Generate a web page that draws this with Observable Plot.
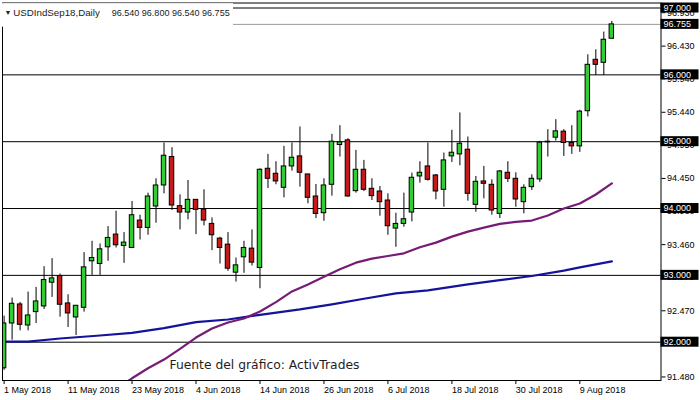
<!DOCTYPE html>
<html>
<head>
<meta charset="utf-8">
<script src="https://cdn.jsdelivr.net/npm/d3@7"></script>
<script src="https://cdn.jsdelivr.net/npm/@observablehq/plot@0.6"></script>
<style>
  html, body { margin: 0; padding: 0; background: white; }
</style>
</head>
<body>
<div id="chart"></div>
<script>
// ---- Data ----
const symbolTitle = "USDIndSep18,Daily";
const lastBar = "96.540 96.800 96.540 96.755";
const caption = "Fuente del gráfico: ActivTrades";

// Daily OHLC, one value per trading day (index 0 = 1 May 2018)
const open = [91.61,92.28,92.565,92.25,92.45,92.535,92.89,92.99,92.58,92.37,
  92.515,93.21,93.17,93.42,93.61,93.44,93.41,93.82,93.71,94.03,
  94.345,94.77,94.035,93.94,94.13,93.985,93.77,93.55,93.46,93.04,
  93.27,93.40,93.11,94.595,94.52,94.31,94.63,94.78,94.51,94.18,
  93.93,94.355,94.95,95.02,94.26,94.58,94.295,94.255,94.12,93.70,
  93.77,93.94,94.48,94.63,94.495,94.28,94.78,94.81,94.88,94.055,
  94.405,94.355,93.92,94.535,94.445,94.095,94.32,94.435,94.99,95.06,
  95.15,94.98,94.93,95.456,96.225,96.18,96.54];
const high = [92.39,92.66,92.595,92.75,92.82,93.13,93.25,93.02,92.71,92.55,
  93.34,93.51,93.47,93.73,93.96,93.64,94.105,93.90,94.23,94.445,
  94.98,94.91,94.205,94.42,94.13,94.28,93.86,93.57,93.64,93.26,
  93.51,93.68,94.595,94.81,94.70,94.93,94.98,95.22,94.51,94.36,
  94.445,95.11,95.24,95.045,94.87,94.72,94.445,94.33,94.22,93.93,
  94.23,94.53,94.70,94.98,94.51,94.83,95.17,95.43,95.07,94.48,
  94.63,94.43,94.57,94.70,94.535,94.355,94.505,95.005,95.18,95.33,
  95.18,95.24,95.47,96.30,96.375,96.64,96.80];
const low = [91.58,92.03,92.17,92.17,92.28,92.49,92.67,92.375,92.22,92.10,
  92.45,93.00,93.00,93.21,93.41,93.18,93.41,93.53,93.60,93.78,
  94.22,93.97,93.68,93.83,93.61,93.74,93.37,93.17,93.06,92.90,
  93.03,93.14,92.80,94.30,94.355,94.16,94.56,94.32,94.07,93.85,
  93.81,94.185,94.77,94.17,94.23,94.255,94.12,93.885,93.60,93.42,
  93.72,93.80,94.38,94.41,94.13,94.02,94.69,94.64,94.11,93.945,
  94.145,93.90,93.85,94.39,94.02,93.92,94.27,94.39,94.77,95.01,
  94.78,94.81,94.84,95.37,95.99,95.99,96.54];
const close = [92.28,92.575,92.26,92.40,92.61,92.93,92.955,92.56,92.43,92.545,
  93.12,93.26,93.39,93.56,93.45,93.49,93.90,93.71,94.18,94.345,
  94.79,94.045,93.94,94.13,93.98,93.82,93.60,93.41,93.10,93.15,
  93.41,93.19,94.58,94.445,94.405,94.63,94.76,94.535,94.16,93.92,
  94.345,95.00,94.99,94.18,94.58,94.28,94.185,94.095,93.735,93.77,
  93.84,94.46,94.535,94.43,94.255,94.72,94.835,94.97,94.22,94.40,
  94.37,93.97,94.555,94.445,94.135,94.31,94.445,94.985,95.00,95.155,
  94.98,94.93,95.45,96.15,96.15,96.525,96.755];

// Moving averages, read at selected bar indices
const slowMaIndex = [0,3,7,12,16,20,24,28,32,37,41,45,49,53,58,62,66,70,72,76];
const slowMaValue = [92.01,92.01,92.055,92.10,92.14,92.21,92.30,92.34,92.41,92.49,
  92.565,92.65,92.73,92.775,92.865,92.93,92.99,93.07,93.12,93.21];
const fastMaIndex = [15,16,18,20,22,24,26,28,30,32,34,36,38,40,42,44,46,48,50,52,
  54,56,58,60,62,64,66,68,70,72,74,76];
const fastMaValue = [91.38,91.46,91.61,91.74,91.90,92.07,92.205,92.295,92.355,92.46,
  92.60,92.76,92.865,92.98,93.09,93.19,93.25,93.29,93.33,93.42,
  93.49,93.58,93.655,93.715,93.77,93.80,93.82,93.895,94.00,94.075,94.21,94.375];

// Axes
const tickIndex = [0,8,16,24,32,40,48,56,64,72];
const tickLabels = ["1 May 2018","11 May 2018","23 May 2018","4 Jun 2018","14 Jun 2018",
  "26 Jun 2018","6 Jul 2018","18 Jul 2018","30 Jul 2018","9 Aug 2018"];
const yTickValues = [91.48,91.98,92.47,92.97,93.46,93.96,94.45,94.95,95.44,95.94,96.43,96.93];
const levelLines = [92,93,94,95,96,97];
const currentPrice = 96.755;

// ---- Build ----
const candles = open.map((o, i) => ({i, open: o, high: high[i], low: low[i], close: close[i]}));
const slowMa = slowMaIndex.map((i, k) => ({i, v: slowMaValue[k]}));
const fastMa = fastMaIndex.map((i, k) => ({i, v: fastMaValue[k]}));

const GREEN = "#33cc33", RED = "#c41a1a";
const FONT = "'Liberation Sans', Arial, sans-serif";

const plot = Plot.plot({
  width: 700,
  height: 400,
  marginLeft: 2,
  marginRight: 39.5,
  marginTop: 2.5,
  marginBottom: 20,
  style: {fontFamily: FONT, fontSize: "9px", color: "black", background: "white"},
  x: {type: "linear", domain: [-0.2, 82.15], axis: null},
  y: {domain: [91.427, 97.075], axis: null},
  marks: [
    Plot.ruleY(levelLines, {stroke: "black", strokeWidth: 1}),
    Plot.ruleY([currentPrice], {stroke: "#9a9a9a", strokeWidth: 1}),
    Plot.line(slowMa, {x: "i", y: "v", stroke: "#14149a", strokeWidth: 2.2, clip: true}),
    Plot.line(fastMa, {x: "i", y: "v", stroke: "#761c76", strokeWidth: 2.2, clip: true}),
    Plot.ruleX(candles, {x: "i", y1: "low", y2: "high", stroke: "black", strokeWidth: 1, clip: true}),
    Plot.rect(candles, {
      x1: d => d.i - 0.28, x2: d => d.i + 0.28,
      y1: "open", y2: "close",
      fill: d => d.close >= d.open ? GREEN : RED,
      stroke: "black", strokeWidth: 1, clip: true
    }),
    Plot.frame({stroke: "black"}),
    Plot.axisX(tickIndex, {
      tickFormat: d => tickLabels[tickIndex.indexOf(d)],
      textAnchor: "start", tickSize: 4, tickPadding: 2, label: null, fontSize: 9
    }),
    Plot.axisY(yTickValues, {
      anchor: "right", tickSize: 4, tickPadding: 2, label: null, fontSize: 9,
      tickFormat: d => d.toFixed(3)
    }),
    Plot.text([caption], {
      frameAnchor: "bottom-left", dx: 167, dy: -12, textAnchor: "start",
      fontSize: 12.5, fill: "#1e1e1e", fontFamily: "'DejaVu Sans', Verdana, sans-serif"
    })
  ]
});

document.getElementById("chart").appendChild(plot);

const svg = d3.select(plot);
// Tahoma-like caption width
svg.selectAll("text").filter(function() { return this.textContent === caption; })
  .attr("textLength", 190).attr("lengthAdjust", "spacingAndGlyphs");

// Price boxes on the right axis and the title block, positioned with Plot's y scale
const ys = plot.scale("y");
const boxes = svg.append("g")
  .attr("font-family", FONT).attr("font-size", 9).attr("text-anchor", "start");
[...levelLines, currentPrice].forEach(v => {
  const y = ys.apply(v);
  boxes.append("rect").attr("x", 660.5).attr("y", y - 5).attr("width", 38).attr("height", 10).attr("fill", "black");
  boxes.append("text").attr("x", 663.5).attr("y", y + 3.3).attr("fill", "white").text(v.toFixed(3));
});

const head = svg.append("g")
  .attr("font-family", FONT).attr("font-size", 9.5).attr("fill", "#222").attr("text-anchor", "start");
head.append("rect").attr("x", 0).attr("y", 3.2).attr("width", 233).attr("height", 23.5).attr("fill", "white");
head.append("text").attr("x", 4.5).attr("y", 15).attr("font-size", 7).text("▼");
head.append("text").attr("x", 13.3).attr("y", 15.8).attr("textLength", 86.5).attr("lengthAdjust", "spacingAndGlyphs").text(symbolTitle);
head.append("text").attr("x", 111.7).attr("y", 15.8).attr("textLength", 118).attr("lengthAdjust", "spacingAndGlyphs").text(lastBar);
</script>
</body>
</html>
